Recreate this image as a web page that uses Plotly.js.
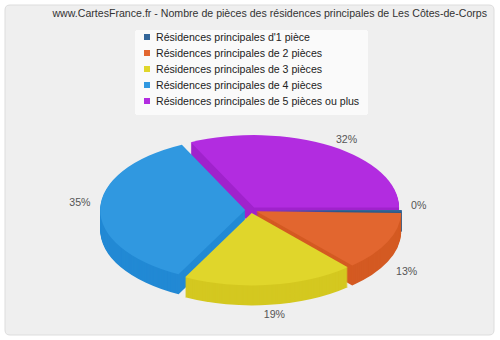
<!DOCTYPE html>
<html><head><meta charset="utf-8">
<script src="https://cdn.plot.ly/plotly-3.0.1.min.js"></script>
<style>html,body{margin:0;padding:0;background:#fff}#chart{width:500px;height:340px}</style>
</head><body><div id="chart"></div>
<script>
const categories = [
  "Résidences principales d'1 pièce",
  "Résidences principales de 2 pièces",
  "Résidences principales de 3 pièces",
  "Résidences principales de 4 pièces",
  "Résidences principales de 5 pièces ou plus"
];
const shares = [0.4, 13, 19, 35, 32];
const topColors = ['#336699', '#e2662f', '#e0d62b', '#3098e0', '#b22ce0'];
const sideColors = ['#2a5a88', '#d45a22', '#d4c820', '#2289d4', '#a022cc'];
const titleText = 'www.CartesFrance.fr - Nombre de pièces des résidences principales de Les Côtes-de-Corps';

const PULL = 0.04, SQUASH = 0.5, DEPTH = 20, STEP = 1, CY_TARGET = 210;
const LAB_RX = 160, LAB_RY = 73;
const FONT = 'Liberation Sans, Arial, sans-serif';
const FS = 10.6;
const base = {
  type: 'pie', labels: categories, values: shares, sort: false,
  direction: 'clockwise', rotation: 90, pull: PULL,
  domain: {x: [0.2004, 0.8036], y: [0, 1]},
  hoverinfo: 'none', textinfo: 'none'
};
const depths = [];
const traces = [];
for (let d = DEPTH; d > 0; d -= STEP) {
  depths.push(d);
  traces.push(Object.assign({}, base, {showlegend: false, marker: {colors: sideColors, line: {width: 0}}}));
}
depths.push(0);
traces.push(Object.assign({}, base, {showlegend: true, marker: {colors: topColors, line: {width: 0}}}));
traces.push(Object.assign({}, base, {
  showlegend: false,
  marker: {colors: categories.map(() => 'rgba(0,0,0,0)'), line: {width: 0}},
  texttemplate: '%{percent:.0%}', textposition: 'outside',
  textfont: {family: FONT, size: FS, color: '#555555'}
}));

const r = 5;
const px = v => v / 500, py = v => 1 - v / 340;
const boxPath = `M ${px(5 + r)} ${py(5)} L ${px(494 - r)} ${py(5)} Q ${px(494)} ${py(5)} ${px(494)} ${py(5 + r)} L ${px(494)} ${py(335 - r)} Q ${px(494)} ${py(335)} ${px(494 - r)} ${py(335)} L ${px(5 + r)} ${py(335)} Q ${px(5)} ${py(335)} ${px(5)} ${py(335 - r)} L ${px(5)} ${py(5 + r)} Q ${px(5)} ${py(5)} ${px(5 + r)} ${py(5)} Z`;

const layout = {
  width: 500, height: 340,
  margin: {l: 0, r: 0, t: 0, b: 0, autoexpand: false},
  paper_bgcolor: '#ffffff',
  font: {family: FONT, size: FS, color: '#333333'},
  title: {text: titleText, x: 0.974, xanchor: 'right', y: 1 - 13 / 340, yanchor: 'middle', yref: 'container', xref: 'container',
          font: {family: FONT, size: FS, color: '#333333'}},
  shapes: [{type: 'path', xref: 'paper', yref: 'paper', path: boxPath, fillcolor: '#efefef', line: {color: '#dddddd', width: 1}, layer: 'below'}],
  showlegend: true,
  legend: {x: 0.5, xanchor: 'center', y: 1 - 30 / 340, yanchor: 'top', bgcolor: '#fafafa', borderwidth: 0,
           font: {family: FONT, size: FS, color: '#222222'}, traceorder: 'normal'}
};

const clamp = v => Math.max(-1, Math.min(1, v));

Plotly.newPlot('chart', traces, layout, {staticPlot: true}).then(gd => {
  const gb = gd.getBoundingClientRect();
  const groups = gd.querySelectorAll('.pielayer > g.trace');
  const nPie = depths.length;
  groups.forEach((g, i) => {
    const cd0 = gd.calcdata[i][0];
    const cy = cd0.cy, cx = cd0.cx;
    if (i < nPie) {
      const ty = CY_TARGET + depths[i] - SQUASH * cy;
      g.setAttribute('transform', `translate(0,${ty}) scale(1,${SQUASH})`);
    } else {
      g.querySelectorAll('g.slice').forEach(sl => {
        const pt = sl.__data__;
        const t = sl.querySelector('text');
        if (!t || !pt || !pt.pxmid) return;
        const len = Math.hypot(pt.pxmid[0], pt.pxmid[1]) || 1;
        const ux = pt.pxmid[0] / len, uy = pt.pxmid[1] / len;
        const b = t.getBoundingClientRect();
        const Xc = b.left - gb.left + b.width / 2;
        const Yc = b.top - gb.top + b.height / 2;
        const w = b.width, h = b.height;
        const Xt = cx + LAB_RX * ux + (w / 2) * clamp(3 * ux);
        const Yt = CY_TARGET + LAB_RY * uy + (h / 2) * clamp(3 * uy)
                 + (uy > 0 ? DEPTH * 1.45 * Math.min(1, 3 * uy) : 0) - 3 - 4 * (1 - Math.abs(uy));
        const host = t.parentNode;
        const old = host.getAttribute('transform') || '';
        host.setAttribute('transform', `translate(${Xt - Xc},${Yt - Yc}) ` + old);
      });
    }
  });

  // compact legend styling
  const leg = gd.querySelector('g.legend');
  if (leg) {
    leg.setAttribute('transform', 'translate(135,30)');
    const bg = leg.querySelector('rect.bg');
    if (bg) {
      bg.setAttribute('width', 233); bg.setAttribute('height', 85);
      bg.setAttribute('x', 0); bg.setAttribute('y', 0);
      bg.setAttribute('rx', 3); bg.setAttribute('ry', 3);
    }
    const sb = leg.querySelector('g.scrollbox');
    if (sb) sb.setAttribute('transform', 'translate(0,0)');
    leg.querySelectorAll('g.traces').forEach((tr, k) => {
      tr.setAttribute('transform', `translate(0,${7 + 16 * k})`);
      const sym = tr.querySelector('path.legendpie');
      if (sym) {
        sym.setAttribute('d', 'M3,3H-3V-3H3Z');
        sym.setAttribute('transform', 'translate(12,0)');
        sym.style.strokeWidth = '0';
      }
      const txt = tr.querySelector('text.legendtext');
      if (txt) {
        txt.setAttribute('x', 21);
        txt.querySelectorAll('tspan').forEach(s => { if (s.hasAttribute('x')) s.setAttribute('x', 21); });
      }
    });
  }
});
</script>
</body></html>
